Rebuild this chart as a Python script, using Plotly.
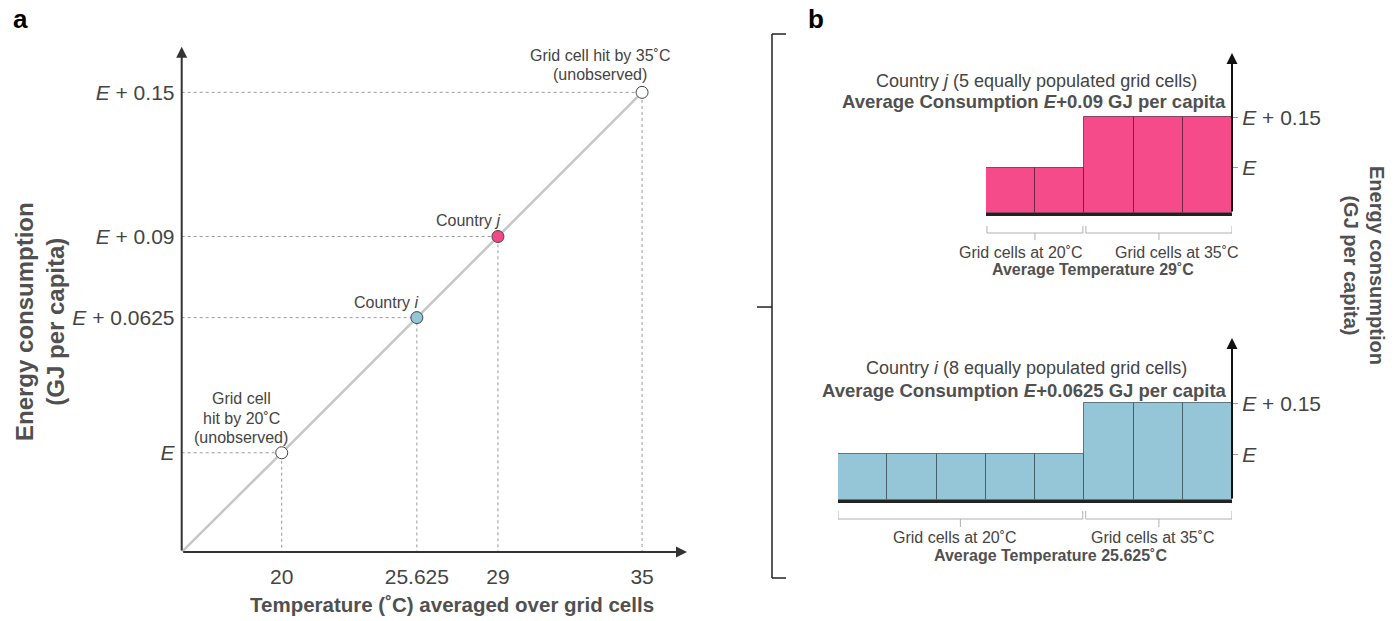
import plotly.graph_objects as go

W, H = 1394, 621
FONT = "Liberation Sans, Arial, Helvetica, sans-serif"
TXT = "#444444"
TITLE = "#505050"

# ---------------- Panel a data ----------------
point_temp = [20, 25.625, 29, 35]
point_cons = [0.0, 0.05625, 0.09, 0.15]          # offset above E, as drawn
point_fill = ["#ffffff", "#94c6d8", "#f2488a", "#ffffff"]
temp_tickvals = [20, 25.625, 29, 35]
temp_ticktext = ["20", "25.625", "29", "35"]
cons_tickvals = [0.0, 0.05625, 0.09, 0.15]
cons_ticktext = ["<i>E</i>", "<i>E</i> + 0.0625", "<i>E</i> + 0.09", "<i>E</i> + 0.15"]
a_xrange = [15.837, 36.87]
a_yrange = [-0.0413, 0.169]

# ---------------- Panel b data ----------------
cells_j = [1, 2, 3, 4, 5]
cons_j = [0.0, 0.0, 0.15, 0.15, 0.15]
cells_i = [1, 2, 3, 4, 5, 6, 7, 8]
cons_i = [0.0, 0.0, 0.0, 0.0, 0.0, 0.15, 0.15, 0.15]
bar_tickvals = [0.0, 0.15]
bar_ticktext = ["<i>E</i>", "<i>E</i> + 0.15"]
bar_floor = -0.135
bj_yrange = [bar_floor, 0.3416]
bi_yrange = [bar_floor, 0.343]
PINK = "#f54b8a"
BLUE = "#94c6d7"


def px(x):
    return x / W


def py(y):
    return 1 - y / H


fig = go.Figure()

# guide dotted lines
for t, c in zip(point_temp, point_cons):
    fig.add_trace(go.Scatter(
        x=[a_xrange[0], t, t], y=[c, c, a_yrange[0]], mode="lines",
        line=dict(color="#9a9a9a", width=1, dash="dot"),
        hoverinfo="skip", xaxis="x", yaxis="y"))

# diagonal
fig.add_trace(go.Scatter(
    x=[a_xrange[0]] + point_temp, y=[a_yrange[0]] + point_cons, mode="lines",
    line=dict(color="#c6c6c6", width=2.5), hoverinfo="skip", xaxis="x", yaxis="y"))

# points
fig.add_trace(go.Scatter(
    x=point_temp, y=point_cons, mode="markers",
    marker=dict(size=12, color=point_fill, line=dict(color="#444444", width=1)),
    cliponaxis=False, hoverinfo="skip", xaxis="x", yaxis="y"))

# bars country j
fig.add_trace(go.Bar(
    x=cells_j, y=[v - bar_floor for v in cons_j], base=bar_floor, width=1,
    marker=dict(color=PINK, line=dict(color="rgba(70,20,40,0.65)", width=1)),
    hoverinfo="skip", xaxis="x2", yaxis="y2"))

# bars country i
fig.add_trace(go.Bar(
    x=cells_i, y=[v - bar_floor for v in cons_i], base=bar_floor, width=1,
    marker=dict(color=BLUE, line=dict(color="rgba(40,60,70,0.65)", width=1)),
    hoverinfo="skip", xaxis="x3", yaxis="y3"))

tickfont = dict(family=FONT, size=21, color=TXT)

axis_common = dict(showgrid=False, zeroline=False, fixedrange=True)

layout = dict(
    width=W, height=H, margin=dict(l=0, r=0, t=0, b=0),
    paper_bgcolor="white", plot_bgcolor="rgba(0,0,0,0)",
    showlegend=False, bargap=0, font=dict(family=FONT, color=TXT),
    xaxis=dict(domain=[px(181.7), px(687)], range=a_xrange, anchor="y",
               showline=False, tickvals=temp_tickvals, ticktext=temp_ticktext,
               ticks="outside", ticklen=6, tickcolor="rgba(0,0,0,0)",
               tickfont=tickfont, **axis_common),
    yaxis=dict(domain=[py(552), py(46.7)], range=a_yrange, anchor="x",
               showline=False, tickvals=cons_tickvals, ticktext=cons_ticktext,
               ticks="outside", ticklen=2, tickcolor="rgba(0,0,0,0)",
               tickfont=tickfont, **axis_common),
    xaxis2=dict(domain=[px(986), px(1232)], range=[0.5, 5.5], anchor="y2",
                showline=True, linecolor="#222222", linewidth=3,
                showticklabels=False, ticks="", **axis_common),
    yaxis2=dict(domain=[py(213), py(53)], range=bj_yrange, anchor="x2", side="right",
                showline=False, tickvals=bar_tickvals, ticktext=bar_ticktext,
                ticks="outside", ticklen=5, tickcolor="#999999", tickwidth=1,
                tickfont=tickfont, **axis_common),
    xaxis3=dict(domain=[px(838), px(1232)], range=[0.5, 8.5], anchor="y3",
                showline=True, linecolor="#222222", linewidth=3,
                showticklabels=False, ticks="", **axis_common),
    yaxis3=dict(domain=[py(500), py(338)], range=bi_yrange, anchor="x3", side="right",
                showline=False, tickvals=bar_tickvals, ticktext=bar_ticktext,
                ticks="outside", ticklen=5, tickcolor="#999999", tickwidth=1,
                tickfont=tickfont, **axis_common),
)
fig.update_layout(**layout)

annotations = []


def arrow(x, y, ax, ay, xr, yr, color="#2a2a2a", width=2):
    annotations.append(dict(
        x=x, y=y, ax=ax, ay=ay, xref=xr, yref=yr, axref=xr, ayref=yr,
        text="", showarrow=True, arrowhead=2, arrowsize=1.1, arrowwidth=width,
        arrowcolor=color, standoff=0, startstandoff=0))


# axis arrows panel a
arrow(a_xrange[0], a_yrange[1], a_xrange[0], a_yrange[0], "x", "y", color="#333333")
arrow(a_xrange[1], a_yrange[0], a_xrange[0], a_yrange[0], "x", "y", color="#333333")
# axis arrows panel b
arrow(5.5, bj_yrange[1], 5.5, bar_floor, "x2", "y2", color="#111111")
arrow(8.5, bi_yrange[1], 8.5, bar_floor, "x3", "y3", color="#111111")


def text(t, x, y, size=16, color=TXT, angle=0, xanchor="center"):
    annotations.append(dict(
        text=t, x=px(x), y=py(y), xref="paper", yref="paper", showarrow=False,
        xanchor=xanchor, yanchor="middle", textangle=angle,
        font=dict(family=FONT, size=size, color=color)))


# panel labels
text("<b>a</b>", 20, 19, size=26, color="#000000")
text("<b>b</b>", 816, 19, size=26, color="#000000")

# panel a labels
text("Grid cell hit by 35˚C", 600, 56, size=16)
text("(unobserved)", 600, 75, size=16)
text("Country <i>j</i>", 468, 220, size=16)
text("Country <i>i</i>", 386, 303, size=16)
text("Grid cell", 241, 398, size=16)
text("hit by 20˚C", 241, 418, size=16)
text("(unobserved)", 241, 437, size=16)
text("<b>Temperature (˚C) averaged over grid cells</b>", 452, 604, size=20.5, color=TITLE)
text("<b>Energy consumption<br>(GJ per capita)</b>", 40, 322, size=24, color=TITLE, angle=-90)

# panel b labels
text("Country <i>j</i> (5 equally populated grid cells)", 1036, 81, size=18)
text("<b>Average Consumption <i>E</i>+0.09 GJ per capita</b>", 1034, 101, size=18.5, color=TITLE)
text("Grid cells at 20˚C", 1021, 252, size=16)
text("Grid cells at 35˚C", 1177, 252, size=16)
text("<b>Average Temperature 29˚C</b>", 1093, 270, size=16, color=TITLE)

text("Country <i>i</i> (8 equally populated grid cells)", 1026, 368, size=18)
text("<b>Average Consumption <i>E</i>+0.0625 GJ per capita</b>", 1024, 390, size=18.5, color=TITLE)
text("Grid cells at 20˚C", 955, 537, size=16)
text("Grid cells at 35˚C", 1153, 537, size=16)
text("<b>Average Temperature 25.625˚C</b>", 1050, 555, size=16, color=TITLE)

text("<b>Energy consumption<br>(GJ per capita)</b>", 1364, 265, size=20, color=TITLE, angle=90)

fig.update_layout(annotations=annotations)

shapes = []


def pline(x0, y0, x1, y1, color="#222222", width=1.5):
    shapes.append(dict(type="line", xref="paper", yref="paper",
                       x0=px(x0), y0=py(y0), x1=px(x1), y1=py(y1),
                       line=dict(color=color, width=width)))


# big bracket for panel b
pline(772, 34, 772, 578)
pline(772, 34, 786, 34)
pline(772, 578, 786, 578)
pline(757, 307, 772, 307)

GR = "#b0b0b0"


def bracket(xref, xa, xb, ytop, ybar, ytick):
    for xx in (xa, xb):
        shapes.append(dict(type="line", xref=xref, yref="paper", x0=xx, x1=xx,
                           y0=py(ytop), y1=py(ybar), line=dict(color=GR, width=1)))
    shapes.append(dict(type="line", xref=xref, yref="paper", x0=xa, x1=xb,
                       y0=py(ybar), y1=py(ybar), line=dict(color=GR, width=1)))
    xm = (xa + xb) / 2
    shapes.append(dict(type="line", xref=xref, yref="paper", x0=xm, x1=xm,
                       y0=py(ybar), y1=py(ytick), line=dict(color=GR, width=1)))


bracket("x2", 0.52, 2.47, 226, 233, 240)
bracket("x2", 2.53, 5.5, 226, 233, 240)
bracket("x3", 0.5, 5.47, 511, 519, 527)
bracket("x3", 5.53, 8.5, 511, 519, 527)

fig.update_layout(shapes=shapes)

fig.write_html("out.html")
